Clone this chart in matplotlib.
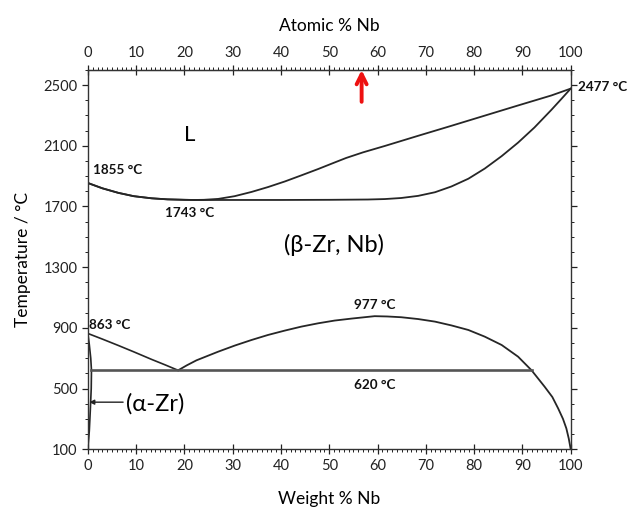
import matplotlib.pyplot as plt
from matplotlib.ticker import MultipleLocator

plt.rcParams["font.family"] = ["Lato", "DejaVu Sans"]

# phase boundaries, weight % Nb vs temperature (deg C)
liq_wt = [0, 3, 6.3, 9.5, 13.2, 16.5, 20.1, 22, 24, 27, 30.4, 33.9, 37.3, 40.8, 44.2,
          47.7, 51.1, 53.5, 57, 61.5, 68.4, 75.3, 82.2, 89.1, 96, 100]
liq_T = [1855, 1820, 1790, 1768, 1754, 1747, 1744, 1743, 1744, 1750, 1768, 1796, 1828,
         1865, 1905, 1947, 1990, 2020, 2057, 2099, 2166, 2232, 2299, 2366, 2432, 2477]

sol_wt = [0, 3, 6.3, 9.5, 13.2, 16.5, 20.1, 22, 30, 40, 50, 58, 61.5, 64.9, 68.4, 71.9,
          75.3, 78.8, 82.2, 85.7, 89.1, 92.5, 96, 98.1, 100]
sol_T = [1855, 1820, 1790, 1768, 1754, 1747, 1744, 1743, 1743, 1743, 1744, 1746, 1749,
         1756, 1770, 1794, 1832, 1883, 1950, 2032, 2121, 2221, 2337, 2410, 2477]

transus_wt = [0, 3, 6.3, 9.5, 13.2, 16, 18.7]
transus_T = [863, 826, 784, 742, 692, 656, 620]

gap_wt = [18.7, 20.5, 22.5, 27, 30.5, 33.9, 37.3, 40.8, 44.2, 47.7, 51.1, 54.6, 57, 59.4,
          62, 64.9, 68.4, 71.9, 75.3, 78.8, 82.2, 85.7, 89.1, 91.9, 94.6, 96.2, 97.4,
          98.4, 99.1, 99.6, 100]
gap_T = [620, 653, 686, 743, 784, 820, 853, 882, 908, 930, 948, 961, 969, 977, 975, 970,
         958, 941, 916, 886, 842, 787, 710, 620, 512, 444, 369, 300, 237, 170, 100]

alpha_wt = [0, 0.3, 0.6, 0.75, 0.7, 0.5, 0.3, 0]
alpha_T = [863, 790, 700, 620, 500, 350, 220, 100]

monotectoid_wt = [0.75, 91.9]
monotectoid_T = [620, 620]

arrow_at = 56.7  # at.% Nb marked on the top axis

fig = plt.figure(figsize=(6.32, 5.07), dpi=100)
ax = fig.add_axes([0.139, 0.114, 0.764, 0.748])

lc = "#262626"
ax.plot(liq_wt, liq_T, color=lc, lw=1.3)
ax.plot(sol_wt, sol_T, color=lc, lw=1.3)
ax.plot(transus_wt, transus_T, color=lc, lw=1.2)
ax.plot(gap_wt, gap_T, color=lc, lw=1.3)
ax.plot(alpha_wt, alpha_T, color=lc, lw=1.2)
ax.plot(monotectoid_wt, monotectoid_T, color="#555555", lw=1.9)

ax.set_xlim(0, 100)
ax.set_ylim(100, 2600)
ax.set_yticks([100, 500, 900, 1300, 1700, 2100, 2500])
ax.xaxis.set_major_locator(MultipleLocator(10))
ax.xaxis.set_minor_locator(MultipleLocator(1))
ax.yaxis.set_minor_locator(MultipleLocator(100))
ax.tick_params(which="both", direction="out", right=True, labelsize=10.5, colors="#222222")
ax.tick_params(which="major", length=4, width=0.9)
ax.tick_params(which="minor", length=2.2, width=0.7)
ax.tick_params(axis="x", which="major", direction="inout", length=7)
for sp in ax.spines.values():
    sp.set_color("#333333")
    sp.set_linewidth(1.0)

top = ax.secondary_xaxis("top", functions=(lambda x: x, lambda x: x))
top.xaxis.set_major_locator(MultipleLocator(10))
top.xaxis.set_minor_locator(MultipleLocator(1))
top.tick_params(which="both", direction="out", labelsize=10.5, colors="#222222")
top.tick_params(which="major", direction="inout", length=7, width=0.9)
top.tick_params(which="minor", length=2.2, width=0.7)
top.set_xlabel("Atomic % Nb", fontsize=12.5, labelpad=11)

ax.set_xlabel("Weight % Nb", fontsize=12.5, labelpad=13)
ax.set_ylabel("Temperature / °C", fontsize=12.5, labelpad=9)

bold = dict(fontsize=9.7, fontweight="bold", color="#111111")
ax.text(1, 1940, "1855 °C", ha="left", va="center", **bold)
ax.text(21, 1656, "1743 °C", ha="center", va="center", **bold)
ax.text(0.3, 917, "863 °C", ha="left", va="center", **bold)
ax.text(59.4, 1049, "977 °C", ha="center", va="center", **bold)
ax.text(59.4, 521, "620 °C", ha="center", va="center", **bold)
ax.text(101.5, 2490, "2477 °C", ha="left", va="center", clip_on=False, **bold)

ax.text(21, 2171, "L", ha="center", va="center", fontsize=16)
ax.text(51, 1445, "(β-Zr, Nb)", ha="center", va="center", fontsize=17)
ax.text(8.0, 402, "(α-Zr)", ha="left", va="center", fontsize=17)
ax.annotate("", xy=(0.3, 410), xytext=(7.3, 410),
            arrowprops=dict(arrowstyle="-|>", color="#222222", lw=1.0,
                            mutation_scale=7, shrinkA=0, shrinkB=0))

ax.annotate("", xy=(arrow_at, 2600), xytext=(arrow_at, 2390),
            arrowprops=dict(arrowstyle="->", color="#ee1111", lw=2.8,
                            mutation_scale=18, shrinkA=0, shrinkB=0),
            annotation_clip=False)

fig.savefig("out.png", dpi=100)
